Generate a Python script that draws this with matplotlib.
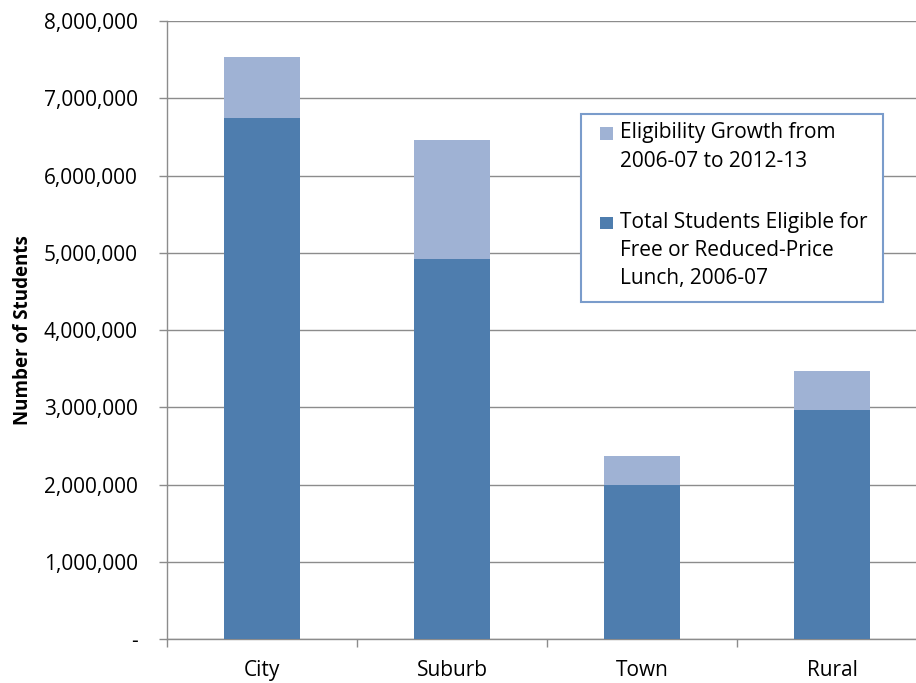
import matplotlib
matplotlib.use("Agg")
import matplotlib.pyplot as plt
from matplotlib.patches import Rectangle
from matplotlib.ticker import FuncFormatter

categories = ["City", "Suburb", "Town", "Rural"]
eligible_2006 = [6740000, 4920000, 1990000, 2960000]
total_2012 = [7530000, 6460000, 2370000, 3470000]
growth = [t - b for t, b in zip(total_2012, eligible_2006)]

label_growth = "Eligibility Growth from\n2006-07 to 2012-13"
label_base = "Total Students Eligible for\nFree or Reduced-Price\nLunch, 2006-07"

dark = "#4E7DAE"
light = "#9FB2D4"
grid = "#8C8C8C"

plt.rcParams["font.family"] = ["Open Sans", "DejaVu Sans"]

fig = plt.figure(figsize=(9.16, 6.83), dpi=100)
ax = fig.add_axes([167 / 916, 1 - 639 / 683, 760 / 916, 618 / 683])

x = range(len(categories))
ax.bar(x, eligible_2006, width=0.395, color=dark, zorder=3)
ax.bar(x, growth, width=0.395, bottom=eligible_2006, color=light, zorder=3)

ax.set_xlim(-0.5, 3.5)
ax.set_ylim(0, 8000000)
ax.set_yticks(range(0, 8000001, 1000000))
ax.yaxis.set_major_formatter(FuncFormatter(lambda v, p: "-" if v == 0 else f"{int(v):,}"))
ax.grid(axis="y", color=grid, linewidth=1, zorder=0)

ax.set_xticks(list(x))
ax.set_xticklabels(categories)
ax.set_xticks([-0.5, 0.5, 1.5, 2.5, 3.5], minor=True)
ax.tick_params(axis="x", which="major", length=0, pad=15, labelsize=15)
ax.tick_params(axis="x", which="minor", length=6, color=grid, width=1)
ax.tick_params(axis="y", length=6, color=grid, width=1, pad=15, labelsize=15)

for s in ["top", "right"]:
    ax.spines[s].set_visible(False)
for s in ["left", "bottom"]:
    ax.spines[s].set_color(grid)
    ax.spines[s].set_linewidth(1)

ax.set_ylabel("Number of Students", fontsize=13.5, fontweight="bold", labelpad=8)

# legend drawn by hand so the swatches sit at the first line of each label
box = Rectangle((0.545, 0.545), 0.397, 0.305, transform=ax.transAxes,
                facecolor="white", edgecolor="#7A9CCB", linewidth=1.5, zorder=5)
ax.add_patch(box)
for ytop, col, lab in [(0.828, light, label_growth), (0.683, dark, label_base)]:
    ax.add_patch(Rectangle((0.570, ytop - 0.020), 0.017, 0.020, transform=ax.transAxes,
                           facecolor=col, edgecolor="none", zorder=6))
    ax.text(0.596, ytop + 0.008, lab, transform=ax.transAxes, fontsize=15,
            va="top", ha="left", linespacing=1.45, zorder=6)

fig.savefig("out.png", dpi=100)
